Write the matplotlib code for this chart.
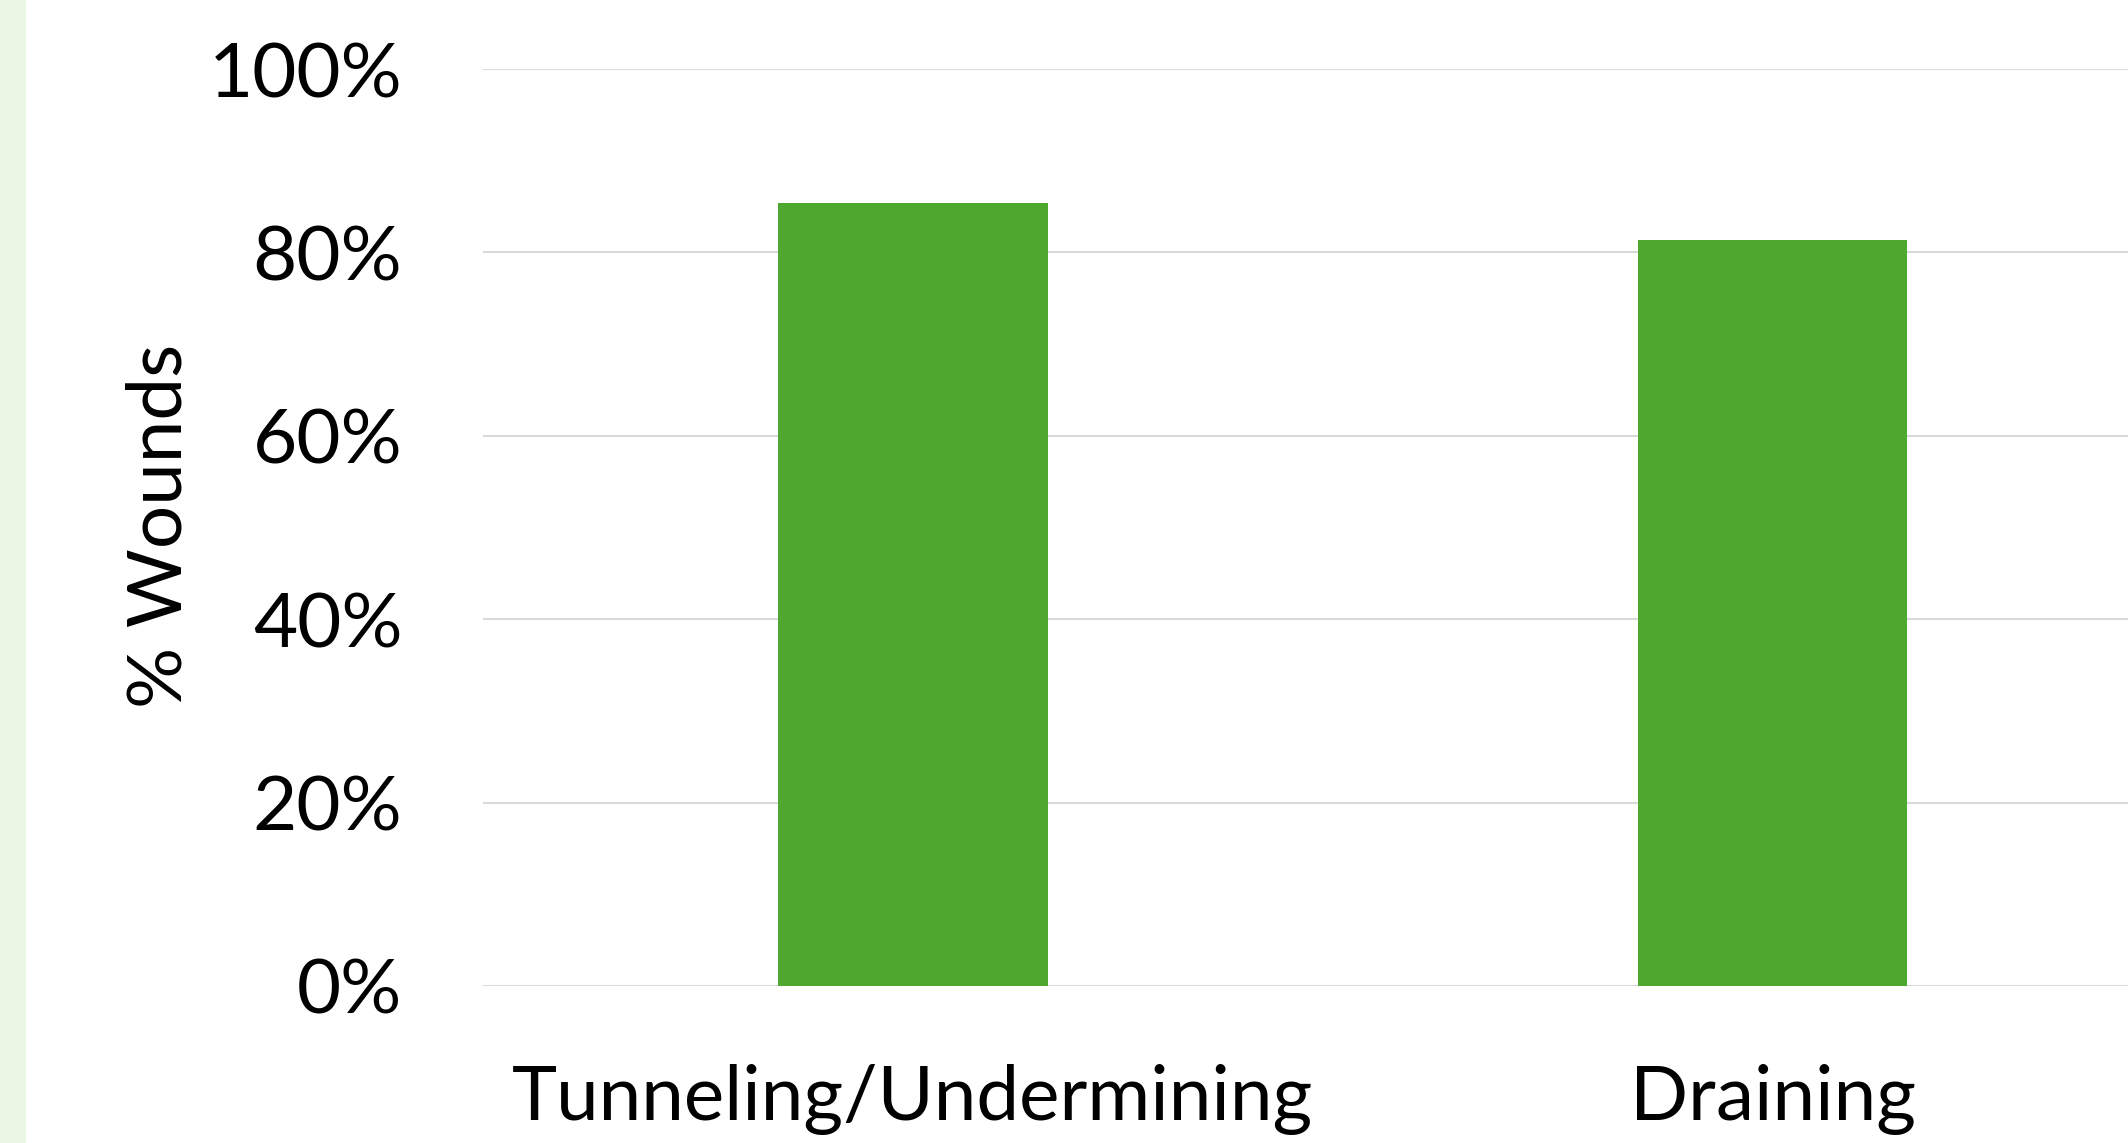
import matplotlib
matplotlib.use('Agg')
import matplotlib.pyplot as plt
from matplotlib.patches import Rectangle
from matplotlib.ticker import PercentFormatter

# Chart data
categories = ['Tunneling/Undermining', 'Draining']
wound_share = [0.854, 0.813]
y_ticks = [0, 0.2, 0.4, 0.6, 0.8, 1.0]

plt.rcParams['font.family'] = ['Lato', 'DejaVu Sans']

fig = plt.figure(figsize=(21.28, 11.43), dpi=100)
fig.patch.set_facecolor('white')

# light green strip on the left edge
fig.patches.append(Rectangle((0, 0), 26 / 2128, 1, transform=fig.transFigure,
                             facecolor='#EBF7E5', edgecolor='none', zorder=0))

ax = fig.add_axes([483 / 2128, 157 / 1143, 1 - 483 / 2128, 917 / 1143])
ax.bar(range(len(categories)), wound_share, width=0.313, color='#4EA72E', zorder=3)

ax.set_ylim(0, 1)
ax.set_xlim(-0.5, 1.413)
ax.set_yticks(y_ticks)
ax.yaxis.set_major_formatter(PercentFormatter(1.0, decimals=0))
ax.set_xticks(range(len(categories)))
ax.set_xticklabels(categories)

ax.grid(axis='y', color='#D9D9D9', linewidth=1.5, zorder=0)
ax.set_axisbelow(True)
for s in ax.spines.values():
    s.set_visible(False)
ax.tick_params(axis='both', length=0)
ax.tick_params(axis='y', labelsize=55, pad=58)
ax.tick_params(axis='x', labelsize=55, pad=56)

fig.text(160 / 2128, 1 - 526 / 1143, '% Wounds', rotation=90,
         ha='center', va='center', fontsize=55)

fig.savefig('out.png', dpi=100)
